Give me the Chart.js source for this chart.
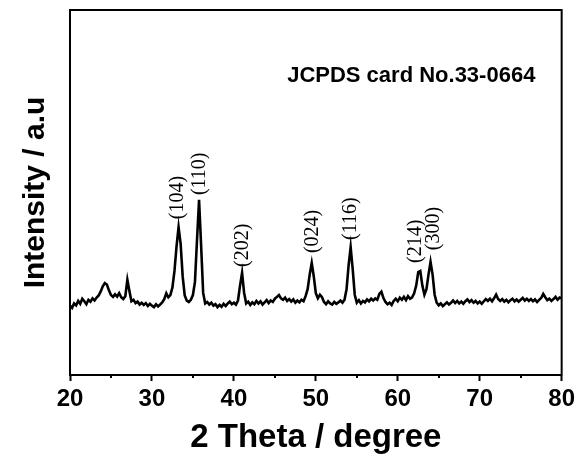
<!DOCTYPE html>
<html lang="en">
<head>
    <meta charset="UTF-8">
    <title>XRD pattern</title>
    <script src="https://cdn.jsdelivr.net/npm/chart.js"></script>
    <style>
        body { margin: 0; background: #fff; }
        #wrap { width: 579px; height: 457px; }
    </style>
</head>
<body>
    <div id="wrap"><canvas id="xrdChart" width="579" height="457"></canvas></div>
    <script>
        // 2 theta (degree) and intensity (a.u.)
        var twoTheta = [
            20.00, 20.25, 20.50, 20.75, 21.00, 21.25, 21.50, 21.75, 22.00, 22.25, 22.50, 22.75,
            23.00, 23.25, 23.50, 23.75, 24.00, 24.25, 24.50, 24.75, 25.00, 25.25, 25.50, 25.75,
            26.00, 26.25, 26.50, 26.75, 27.00, 27.25, 27.50, 27.75, 28.00, 28.25, 28.50, 28.75,
            29.00, 29.25, 29.50, 29.75, 30.00, 30.25, 30.50, 30.75, 31.00, 31.25, 31.50, 31.75,
            32.00, 32.25, 32.50, 32.75, 33.00, 33.25, 33.50, 33.75, 34.00, 34.25, 34.50, 34.75,
            35.00, 35.25, 35.50, 35.75, 36.00, 36.25, 36.50, 36.75, 37.00, 37.25, 37.50, 37.75,
            38.00, 38.25, 38.50, 38.75, 39.00, 39.25, 39.50, 39.75, 40.00, 40.25, 40.50, 40.75,
            41.00, 41.25, 41.50, 41.75, 42.00, 42.25, 42.50, 42.75, 43.00, 43.25, 43.50, 43.75,
            44.00, 44.25, 44.50, 44.75, 45.00, 45.25, 45.50, 45.75, 46.00, 46.25, 46.50, 46.75,
            47.00, 47.25, 47.50, 47.75, 48.00, 48.25, 48.50, 48.75, 49.00, 49.25, 49.50, 49.75,
            50.00, 50.25, 50.50, 50.75, 51.00, 51.25, 51.50, 51.75, 52.00, 52.25, 52.50, 52.75,
            53.00, 53.25, 53.50, 53.75, 54.00, 54.25, 54.50, 54.75, 55.00, 55.25, 55.50, 55.75,
            56.00, 56.25, 56.50, 56.75, 57.00, 57.25, 57.50, 57.75, 58.00, 58.25, 58.50, 58.75,
            59.00, 59.25, 59.50, 59.75, 60.00, 60.25, 60.50, 60.75, 61.00, 61.25, 61.50, 61.75,
            62.00, 62.25, 62.50, 62.75, 63.00, 63.25, 63.50, 63.75, 64.00, 64.25, 64.50, 64.75,
            65.00, 65.25, 65.50, 65.75, 66.00, 66.25, 66.50, 66.75, 67.00, 67.25, 67.50, 67.75,
            68.00, 68.25, 68.50, 68.75, 69.00, 69.25, 69.50, 69.75, 70.00, 70.25, 70.50, 70.75,
            71.00, 71.25, 71.50, 71.75, 72.00, 72.25, 72.50, 72.75, 73.00, 73.25, 73.50, 73.75,
            74.00, 74.25, 74.50, 74.75, 75.00, 75.25, 75.50, 75.75, 76.00, 76.25, 76.50, 76.75,
            77.00, 77.25, 77.50, 77.75, 78.00, 78.25, 78.50, 78.75, 79.00, 79.25, 79.50, 79.75,
            80.00
        ];
        var intensity = [
            19.0, 18.4, 19.6, 19.1, 20.3, 19.5, 20.9, 20.2, 19.4, 20.6, 20.1, 21.0,
            20.4, 21.2, 21.8, 22.9, 24.3, 25.2, 24.8, 23.2, 21.9, 21.4, 22.1, 21.5,
            22.4, 21.3, 20.8, 21.6, 26.1, 23.0, 20.2, 20.6, 19.7, 20.1, 19.3, 19.8,
            19.2, 19.7, 18.9, 19.5, 19.0, 18.6, 19.4, 18.8, 19.3, 19.9, 20.8, 22.4,
            21.3, 21.9, 24.0, 28.5, 35.2, 40.5, 36.0, 27.0, 21.8, 20.4, 20.0, 20.6,
            21.9, 25.5, 37.0, 48.0, 35.5, 22.5, 19.6, 20.0, 19.3, 19.8, 19.0, 19.4,
            18.6, 19.2, 18.7, 19.5, 18.9, 19.6, 20.1, 19.4, 19.8, 19.3, 20.4, 24.5,
            28.0, 22.5, 19.6, 20.1, 19.2, 19.9, 19.4, 20.3, 19.6, 20.2, 19.3, 19.9,
            20.5, 19.7, 20.4, 20.0, 20.9, 21.4, 21.9, 21.0, 20.6, 21.2, 20.3, 20.8,
            20.1, 20.7, 19.8, 20.4, 19.9, 20.6, 20.2, 21.6, 23.5, 27.5, 30.7, 27.0,
            22.4, 21.0, 22.0, 21.3, 20.0, 19.4, 20.2, 19.6, 19.3, 20.0, 19.5, 19.9,
            20.4, 19.8, 20.6, 23.5, 30.0, 35.0, 29.0, 22.0, 19.8, 20.5, 19.6, 20.3,
            19.9, 20.7, 20.2, 20.9, 20.4, 21.0, 20.6, 22.2, 22.8, 21.1, 20.0, 19.4,
            19.8, 19.2, 20.3, 20.9, 20.2, 21.2, 20.6, 21.4, 20.5, 21.6, 20.9, 21.3,
            22.4, 24.5, 28.2, 28.5, 24.5, 22.0, 23.5, 27.5, 31.0, 27.5, 22.0, 19.8,
            19.1, 19.6, 18.9, 19.4, 19.9, 19.3, 19.8, 20.4, 19.7, 20.3, 19.6, 20.1,
            19.5, 20.2, 20.7, 20.0, 20.5, 19.8, 20.3, 19.6, 20.1, 19.5, 20.2, 20.8,
            20.3, 20.9, 20.2, 21.0, 22.0, 20.8, 20.3, 20.8, 20.1, 20.6, 19.9, 20.5,
            20.9, 20.2, 20.7, 20.1, 20.6, 21.1, 20.4, 20.9, 20.3, 20.8, 20.2, 20.7,
            20.0, 20.6, 21.1, 22.2, 21.3, 20.5, 20.9, 20.3, 20.8, 21.4, 20.6, 21.2,
            21.0
        ];

        // Miller index labels, placed just above their peaks
        var peakLabels = ['(104)', '(110)', '(202)', '(024)', '(116)', '(214)', '(300)'];
        var labelTheta = [33.2, 35.8, 41.1, 49.6, 54.3, 62.2, 64.4];
        var labelBase = [42.7, 49.3, 29.6, 33.4, 37.0, 30.7, 34.2];

        var cardNote = 'JCPDS card No.33-0664';

        var points = twoTheta.map(function(t, i) {
            return { x: t, y: intensity[i] };
        });

        var sansBold = "'Liberation Sans', Arial, sans-serif";

        var decorations = {
            id: 'decorations',
            afterDraw: function(chart) {
                var ctx = chart.ctx;
                var area = chart.chartArea;
                var xs = chart.scales.x;
                var ys = chart.scales.y;
                ctx.save();

                // box around the plot
                ctx.strokeStyle = '#000';
                ctx.lineWidth = 2;
                ctx.strokeRect(area.left, area.top, area.right - area.left, area.bottom - area.top);

                // short minor ticks at the odd fives
                for (var v = 25; v < 80; v += 10) {
                    var px = Math.round(xs.getPixelForValue(v));
                    ctx.beginPath();
                    ctx.moveTo(px, area.bottom);
                    ctx.lineTo(px, area.bottom + 3);
                    ctx.stroke();
                }

                // peak labels, rotated
                ctx.fillStyle = '#000';
                ctx.font = "20px 'Liberation Serif', 'Times New Roman', serif";
                ctx.textAlign = 'left';
                ctx.textBaseline = 'middle';
                for (var i = 0; i < peakLabels.length; i++) {
                    ctx.save();
                    ctx.translate(xs.getPixelForValue(labelTheta[i]), ys.getPixelForValue(labelBase[i]));
                    ctx.rotate(-Math.PI / 2);
                    ctx.fillText(peakLabels[i], 0, 0);
                    ctx.restore();
                }

                // card note
                ctx.font = 'bold 22px ' + sansBold;
                ctx.fillText(cardNote, xs.getPixelForValue(46.5), ys.getPixelForValue(81.9));
                ctx.restore();
            }
        };

        var ctx = document.getElementById('xrdChart').getContext('2d');
        var xrdChart = new Chart(ctx, {
            type: 'line',
            data: {
                datasets: [{
                    label: 'XRD',
                    data: points,
                    borderColor: '#000',
                    borderWidth: 2.6,
                    pointRadius: 0,
                    tension: 0,
                    fill: false
                }]
            },
            options: {
                responsive: false,
                animation: false,
                layout: { padding: { top: 10, right: 14, left: 0, bottom: 0 } },
                plugins: {
                    legend: { display: false },
                    tooltip: { enabled: false }
                },
                scales: {
                    x: {
                        type: 'linear',
                        min: 20,
                        max: 80,
                        afterFit: function(scale) { scale.height = 82; },
                        ticks: {
                            stepSize: 5,
                            autoSkip: false,
                            maxRotation: 0,
                            padding: 4,
                            color: '#000',
                            font: { family: sansBold, size: 24, weight: 'bold' },
                            callback: function(v) { return v % 10 === 0 ? v : ''; }
                        },
                        grid: {
                            drawOnChartArea: false,
                            tickLength: 6,
                            tickWidth: 2,
                            tickColor: function(c) {
                                return c.tick && c.tick.value % 10 === 0 ? '#000' : 'rgba(0,0,0,0)';
                            }
                        },
                        border: { display: true, color: '#000', width: 2 },
                        title: {
                            display: true,
                            text: '2 Theta / degree',
                            color: '#000',
                            font: { family: sansBold, size: 33, weight: 'bold', lineHeight: 1 },
                            padding: { top: 0, bottom: 3 }
                        }
                    },
                    y: {
                        min: 0,
                        max: 100,
                        afterFit: function(scale) { scale.width = 70; },
                        ticks: { display: false },
                        grid: { display: false },
                        border: { display: true, color: '#000', width: 2 },
                        title: {
                            display: true,
                            text: 'Intensity / a.u',
                            color: '#000',
                            font: { family: sansBold, size: 30, weight: 'bold', lineHeight: 1 },
                            padding: { top: 21, bottom: 0 }
                        }
                    }
                }
            },
            plugins: [decorations]
        });
    </script>
</body>
</html>
